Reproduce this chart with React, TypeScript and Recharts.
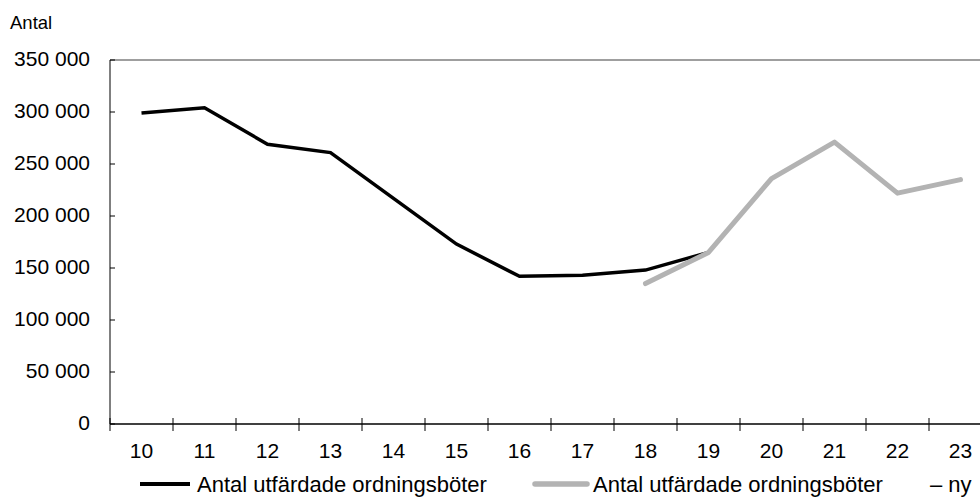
import React from 'react';
import { LineChart, Line, XAxis, YAxis, ReferenceLine, Legend } from 'recharts';

const categories = ['10', '11', '12', '13', '14', '15', '16', '17', '18', '19', '20', '21', '22', '23'];
const oldSeries = [299000, 304000, 269000, 261000, 217000, 173000, 142000, 143000, 148000, 165000, null, null, null, null];
const newSeries = [null, null, null, null, null, null, null, null, 135000, 165000, 236000, 271000, 222000, 235000];
const yTicks = [0, 50000, 100000, 150000, 200000, 250000, 300000, 350000];
const oldName = 'Antal utfärdade ordningsböter';
const newNameMain = 'Antal utfärdade ordningsböter';
const newNameSuffix = '– ny';

const data = categories.map((c, i) => ({ year: c, old: oldSeries[i], ny: newSeries[i] }));

const FONT = '"Liberation Sans", Arial, sans-serif';
const CHART_W = 1000;
const CHART_H = 499;
const MARGIN = { top: 60, right: 8, bottom: 45, left: 0 };
const Y_W = 110;
const HALF_BAND = (CHART_W - MARGIN.right - MARGIN.left - Y_W) / categories.length / 2;

const fmt = (v: number) => {
  if (v === 0) return '0';
  const s = String(v);
  return s.slice(0, s.length - 3) + ' ' + s.slice(s.length - 3);
};

const YTick = (props: any) => {
  const { x, y, payload } = props;
  return (
    <g>
      <line x1={x} x2={x + 5} y1={y} y2={y} stroke="#000" strokeWidth={1} />
      <text x={x - 20} y={y + 6} textAnchor="end" fontSize={21} fontFamily={FONT} fill="#000">
        {fmt(payload.value)}
      </text>
    </g>
  );
};

const XTick = (props: any) => {
  const { x, y, payload } = props;
  const bx = x - HALF_BAND;
  return (
    <g>
      <line x1={bx} x2={bx} y1={y - 6} y2={y + 7} stroke="#000" strokeWidth={1} />
      <text x={x} y={y + 33.5} textAnchor="middle" fontSize={21} fontFamily={FONT} fill="#000">
        {payload.value}
      </text>
    </g>
  );
};

const LegendContent = () => (
  <svg width={980} height={29} style={{ display: 'block' }}>
    <line x1={140} x2={190} y1={14} y2={14} stroke="#000" strokeWidth={4} />
    <text x={197} y={22} fontSize={22} fontFamily={FONT} fill="#000">{oldName}</text>
    <line x1={535} x2={587} y1={14} y2={14} stroke="#b3b3b3" strokeWidth={5.5} strokeLinecap="round" />
    <text x={593} y={22} fontSize={22} fontFamily={FONT} fill="#000">
      {newNameMain}
      <tspan x={930}>{newNameSuffix}</tspan>
    </text>
  </svg>
);

const YLabel = () => (
  <text x={10} y={29} fontSize={18.5} fontFamily={FONT} fill="#000">Antal</text>
);

export default function App() {
  return (
    <div style={{ position: 'fixed', left: 0, top: 0, width: 980, height: 499, overflow: 'hidden', background: '#fff' }}>
      <LineChart width={CHART_W} height={CHART_H} data={data} margin={MARGIN}>
        <XAxis
          dataKey="year"
          scale="band"
          height={30}
          axisLine={{ stroke: '#000', strokeWidth: 1.3 }}
          tickLine={false}
          tickSize={0}
          tickMargin={0}
          interval={0}
          tick={<XTick />}
        />
        <YAxis
          width={Y_W}
          domain={[0, 350000]}
          ticks={yTicks}
          interval={0}
          axisLine={{ stroke: '#000', strokeWidth: 1 }}
          tickLine={false}
          tickSize={0}
          tickMargin={0}
          tick={<YTick />}
          label={{ content: () => <YLabel /> }}
        />
        <ReferenceLine y={350000} stroke="#7f7f7f" strokeWidth={1.5} />
        <Line
          dataKey="old"
          name={oldName}
          stroke="#000"
          strokeWidth={3.5}
          dot={false}
          activeDot={false}
          isAnimationActive={false}
          connectNulls={false}
        />
        <Line
          dataKey="ny"
          name={newNameMain + ' ' + newNameSuffix}
          stroke="#b3b3b3"
          strokeWidth={5}
          strokeLinecap="round"
          strokeLinejoin="round"
          dot={false}
          activeDot={false}
          isAnimationActive={false}
          connectNulls={false}
        />
        <Legend
          layout="vertical"
          align="center"
          verticalAlign="middle"
          content={() => <LegendContent />}
          wrapperStyle={{ top: 470, left: 0, width: 980, height: 29 }}
        />
      </LineChart>
    </div>
  );
}
